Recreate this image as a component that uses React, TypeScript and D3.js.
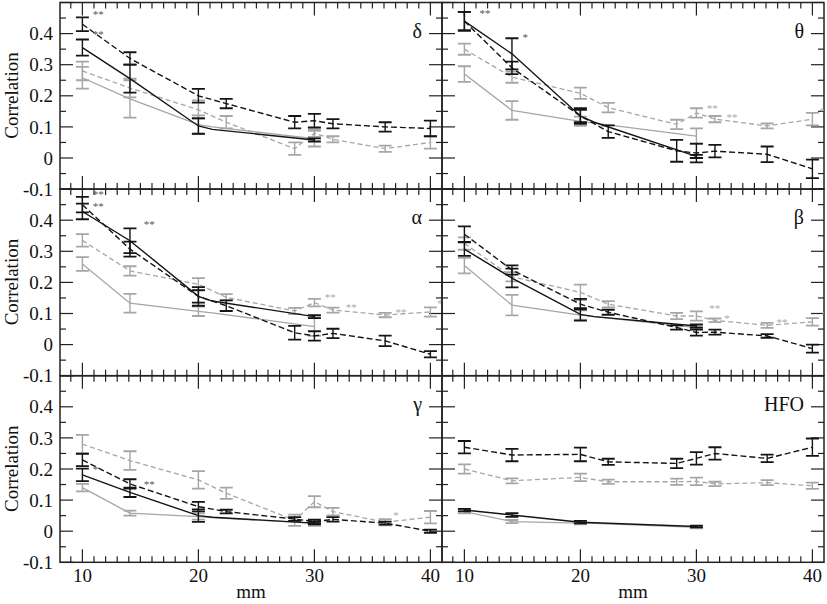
import React from "react";
import * as d3 from "d3";

// ---- data ----
const bands = ["δ", "θ", "α", "β", "γ", "HFO"];
const xDashed = [10, 14.1, 20, 22.4, 28.3, 30, 31.6, 36.1, 40];
const xSolid = [10, 14.1, 20, 21.2, 30];
const yTicks = [-0.1, 0, 0.1, 0.2, 0.3, 0.4];
const xTicks = [10, 20, 30, 40];

const blackDashedMean = [
  [0.43, 0.32, 0.2, 0.175, 0.115, 0.12, 0.11, 0.1, 0.095],
  [0.44, 0.29, 0.135, 0.085, 0.023, 0.016, 0.022, 0.012, -0.035],
  [0.45, 0.307, 0.155, 0.125, 0.038, 0.028, 0.036, 0.012, -0.031],
  [0.355, 0.24, 0.13, 0.104, 0.055, 0.039, 0.04, 0.028, -0.013],
  [0.229, 0.152, 0.079, 0.063, 0.039, 0.031, 0.038, 0.026, 0.0],
  [0.27, 0.245, 0.247, 0.223, 0.218, 0.234, 0.25, 0.234, 0.27],
];
const blackDashedErr = [
  [0.022, 0.02, 0.022, 0.015, 0.02, 0.022, 0.015, 0.015, 0.025],
  [0.03, 0.02, 0.025, 0.02, 0.035, 0.03, 0.02, 0.025, 0.03],
  [0.025, 0.024, 0.03, 0.017, 0.022, 0.015, 0.015, 0.017, 0.01],
  [0.025, 0.015, 0.017, 0.008, 0.007, 0.01, 0.008, 0.006, 0.013],
  [0.02, 0.015, 0.015, 0.006, 0.006, 0.006, 0.007, 0.005, 0.005],
  [0.02, 0.02, 0.022, 0.01, 0.015, 0.02, 0.02, 0.012, 0.028],
];
const grayDashedMean = [
  [0.28, 0.225, 0.155, 0.115, 0.03, 0.08, 0.06, 0.03, 0.05],
  [0.35, 0.26, 0.208, 0.162, 0.108, 0.145, 0.125, 0.103, 0.125],
  [0.335, 0.237, 0.194, 0.152, 0.108, 0.135, 0.111, 0.095, 0.105],
  [0.325, 0.218, 0.168, 0.13, 0.092, 0.092, 0.078, 0.062, 0.073],
  [0.28, 0.227, 0.165, 0.122, 0.035, 0.095, 0.063, 0.029, 0.045],
  [0.2, 0.162, 0.173, 0.159, 0.159, 0.16, 0.152, 0.156, 0.146],
];
const grayDashedErr = [
  [0.03, 0.03, 0.03, 0.02, 0.02, 0.012, 0.01, 0.01, 0.02],
  [0.018, 0.018, 0.018, 0.015, 0.015, 0.015, 0.01, 0.008, 0.02],
  [0.02, 0.015, 0.02, 0.01, 0.01, 0.012, 0.008, 0.007, 0.015],
  [0.02, 0.015, 0.025, 0.01, 0.01, 0.015, 0.006, 0.008, 0.012],
  [0.03, 0.03, 0.028, 0.018, 0.018, 0.018, 0.012, 0.01, 0.02],
  [0.015, 0.008, 0.012, 0.007, 0.01, 0.012, 0.007, 0.008, 0.01],
];
const blackSolidMean = [
  [0.355, 0.255, 0.103, 0.092, 0.058],
  [0.44, 0.335, 0.135, 0.115, 0.005],
  [0.428, 0.334, 0.155, 0.14, 0.09],
  [0.307, 0.214, 0.097, 0.09, 0.06],
  [0.181, 0.125, 0.05, 0.045, 0.026],
  [0.068, 0.052, 0.029, 0.027, 0.015],
];
const blackSolidErr = [
  [0.026, 0.045, 0.025, 0, 0.005],
  [0.03, 0.05, 0.02, 0, 0.005],
  [0.025, 0.04, 0.02, 0, 0.005],
  [0.022, 0.03, 0.02, 0, 0.005],
  [0.02, 0.015, 0.02, 0, 0.004],
  [0.004, 0.006, 0.004, 0, 0.003],
];
const graySolidMean = [
  [0.258, 0.19, 0.107, 0.1, 0.062],
  [0.27, 0.153, 0.118, 0.112, 0.07],
  [0.259, 0.133, 0.107, 0.102, 0.058],
  [0.254, 0.127, 0.095, 0.09, 0.055],
  [0.14, 0.058, 0.047, 0.044, 0.025],
  [0.063, 0.031, 0.026, 0.025, 0.012],
];
const graySolidErr = [
  [0.035, 0.06, 0.03, 0, 0.025],
  [0.025, 0.03, 0.015, 0, 0.025],
  [0.022, 0.03, 0.015, 0, 0.03],
  [0.025, 0.033, 0.015, 0, 0.008],
  [0.012, 0.008, 0.01, 0, 0.008],
  [0.006, 0.005, 0.004, 0, 0.003],
];
// [band, x (mm), y (correlation), text, tone]
const annotations: [number, number, number, string, string][] = [
  [0, 10.9, 0.47, "**", "dark"],
  [0, 10.9, 0.404, "**", "dark"],
  [1, 11.3, 0.473, "**", "dark"],
  [1, 15.0, 0.397, "*", "dark"],
  [1, 30.9, 0.166, "**", "light"],
  [1, 32.6, 0.137, "**", "light"],
  [1, 40.6, 0.157, "*", "light"],
  [2, 10.9, 0.49, "**", "dark"],
  [2, 10.9, 0.452, "**", "dark"],
  [2, 15.3, 0.393, "**", "dark"],
  [2, 30.9, 0.161, "**", "light"],
  [2, 32.7, 0.129, "**", "light"],
  [2, 37.0, 0.113, "**", "light"],
  [2, 40.6, 0.139, "**", "light"],
  [3, 31.1, 0.123, "**", "light"],
  [3, 32.4, 0.091, "*", "light"],
  [3, 36.9, 0.078, "**", "light"],
  [3, 40.8, 0.104, "*", "light"],
  [4, 10.9, 0.206, "*", "dark"],
  [4, 15.3, 0.158, "**", "dark"],
  [4, 36.8, 0.059, "*", "light"],
];

// ---- layout ----
const W = 827;
const H = 604;
const LEFT = 60;
const COLW = 382;
const TOP = 2.5;
const PH = 186.6;
const BLACK = "#141414";
const GRAY = "#a6a6a6";
const FONT = "Liberation Serif";

function ErrorBars({ xs, m, e, x, y, color }: any) {
  return (
    <g stroke={color} strokeWidth={1.4} fill="none">
      {xs.map((xv: number, i: number) =>
        e[i] > 0 ? (
          <g key={i}>
            <line x1={x(xv)} x2={x(xv)} y1={y(m[i] - e[i])} y2={y(m[i] + e[i])} />
            <line x1={x(xv) - 6.5} x2={x(xv) + 6.5} y1={y(m[i] - e[i])} y2={y(m[i] - e[i])} strokeWidth={1.8} />
            <line x1={x(xv) - 6.5} x2={x(xv) + 6.5} y1={y(m[i] + e[i])} y2={y(m[i] + e[i])} strokeWidth={1.8} />
          </g>
        ) : null
      )}
    </g>
  );
}

function Panel({ i }: { i: number }) {
  const col = i % 2;
  const row = Math.floor(i / 2);
  const x0 = LEFT + col * COLW;
  const y0 = TOP + row * PH;
  const x = d3.scaleLinear().domain([8.07, 41]).range([x0, x0 + COLW]);
  const y = d3.scaleLinear().domain([-0.1, 0.5]).range([y0 + PH, y0]);
  const line = d3
    .line<[number, number]>()
    .x((d) => x(d[0]))
    .y((d) => y(d[1]));
  const zip = (xs: number[], vs: number[]) => xs.map((v, k) => [v, vs[k]] as [number, number]);
  const minorX = d3.range(9, 41).filter((v) => v % 10 !== 0);
  const yMajor = d3.range(-0.1, 0.55, 0.1).map((v) => +v.toFixed(2));
  const yMinor = d3.range(-0.05, 0.5, 0.1).map((v) => +v.toFixed(2));
  const clipId = `clip${i}`;
  const x1 = x0 + COLW;
  const yb = y0 + PH;
  return (
    <g>
      <defs>
        <clipPath id={clipId}>
          <rect x={x0} y={y0} width={COLW} height={PH} />
        </clipPath>
      </defs>
      <g stroke="#222" strokeWidth={1.2}>
        {xTicks.map((t) => (
          <g key={"xt" + t}>
            <line x1={x(t)} x2={x(t)} y1={y0} y2={y0 + 13} />
            <line x1={x(t)} x2={x(t)} y1={yb} y2={yb - 13} />
          </g>
        ))}
        {minorX.map((t) => (
          <g key={"xm" + t}>
            <line x1={x(t)} x2={x(t)} y1={y0} y2={y0 + 6} />
            <line x1={x(t)} x2={x(t)} y1={yb} y2={yb - 6} />
          </g>
        ))}
        {yMajor.map((t) => (
          <g key={"ym" + t}>
            <line x1={x0} x2={x0 + 13} y1={y(t)} y2={y(t)} />
            <line x1={x1} x2={x1 - 13} y1={y(t)} y2={y(t)} />
          </g>
        ))}
        {yMinor.map((t) => (
          <g key={"yn" + t}>
            <line x1={x0} x2={x0 + 6} y1={y(t)} y2={y(t)} />
            <line x1={x1} x2={x1 - 6} y1={y(t)} y2={y(t)} />
          </g>
        ))}
      </g>
      <rect x={x0} y={y0} width={COLW} height={PH} fill="none" stroke="#222" strokeWidth={1.5} />
      <g clipPath={`url(#${clipId})`}>
        <path d={line(zip(xDashed, grayDashedMean[i])) || ""} fill="none" stroke={GRAY} strokeWidth={1.3} strokeDasharray="5,3" />
        <path d={line(zip(xSolid, graySolidMean[i])) || ""} fill="none" stroke={GRAY} strokeWidth={1.3} />
        <ErrorBars xs={xDashed} m={grayDashedMean[i]} e={grayDashedErr[i]} x={x} y={y} color={GRAY} />
        <ErrorBars xs={xSolid} m={graySolidMean[i]} e={graySolidErr[i]} x={x} y={y} color={GRAY} />
        <path d={line(zip(xDashed, blackDashedMean[i])) || ""} fill="none" stroke={BLACK} strokeWidth={1.4} strokeDasharray="6,3" />
        <path d={line(zip(xSolid, blackSolidMean[i])) || ""} fill="none" stroke={BLACK} strokeWidth={1.4} />
        <ErrorBars xs={xDashed} m={blackDashedMean[i]} e={blackDashedErr[i]} x={x} y={y} color={BLACK} />
        <ErrorBars xs={xSolid} m={blackSolidMean[i]} e={blackSolidErr[i]} x={x} y={y} color={BLACK} />
        <g opacity={0.99}>
          {annotations
            .filter((a) => a[0] === i)
            .map((a, k) => (
              <text key={k} x={x(a[1])} y={y(a[2])} dy="0.55em" fontSize={11} fill={a[4] === "dark" ? "#555555" : "#aaaaaa"} fontFamily={FONT}>
                {a[3]}
              </text>
            ))}
        </g>
      </g>
      <text x={x1 - 20} y={y0 + 35} textAnchor="end" fontSize={20} fill="#111" fontFamily={FONT}>
        {bands[i]}
      </text>
      {col === 0 &&
        yTicks.map((t) => (
          <text key={"yl" + t} x={53} y={y(t)} dy="0.35em" textAnchor="end" fontSize={19} fill="#111" fontFamily={FONT}>
            {t === 0 ? "0" : t.toFixed(1)}
          </text>
        ))}
      {col === 0 && (
        <text transform={`translate(18,${y0 + 93}) rotate(-90)`} textAnchor="middle" fontSize={19} fill="#111" fontFamily={FONT}>
          Correlation
        </text>
      )}
      {row === 2 &&
        xTicks.map((t) => (
          <text key={"xl" + t} x={x(t)} y={582} textAnchor="middle" fontSize={19} fill="#111" fontFamily={FONT}>
            {t}
          </text>
        ))}
      {row === 2 && (
        <text x={x0 + COLW / 2} y={598} textAnchor="middle" fontSize={19} fill="#111" fontFamily={FONT}>
          mm
        </text>
      )}
    </g>
  );
}

export default function App() {
  return (
    <svg width={W} height={H} fontFamily={FONT} style={{ position: "absolute", left: 0, top: 0, background: "#fff" }}>
      <rect x={0} y={0} width={W} height={H} fill="#fff" />
      {bands.map((b, i) => (
        <Panel key={b} i={i} />
      ))}
    </svg>
  );
}
